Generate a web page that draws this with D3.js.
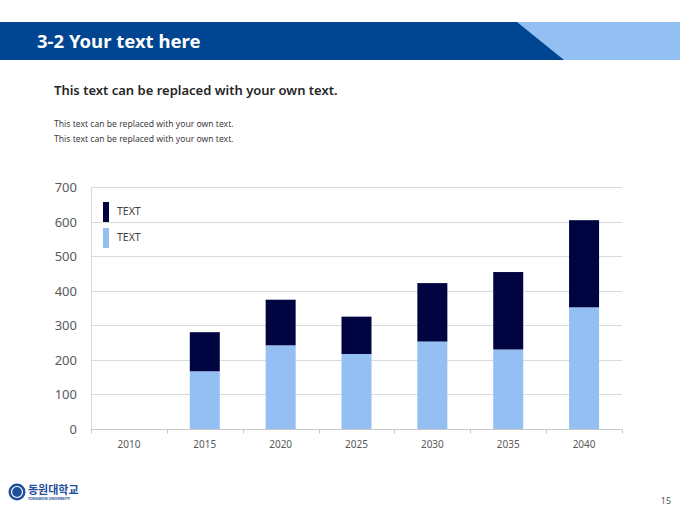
<!DOCTYPE html>
<html>
<head>
<meta charset="utf-8">
<script src="https://cdn.jsdelivr.net/npm/d3@7"></script>
<style>
  html, body { margin: 0; padding: 0; background: #fff; }
  svg { display: block; font-family: "Noto Sans", "Noto Sans CJK KR", sans-serif; }
</style>
</head>
<body>
<div id="chart"></div>
<script>
var width = 680, height = 510;

// chart data
var years = ['2010', '2015', '2020', '2025', '2030', '2035', '2040'];
var lowerValues = [0, 167, 242, 217, 253, 230, 352];
var upperValues = [0, 113, 132, 108, 169, 224, 252];
var seriesNames = ['TEXT', 'TEXT'];
var yTicks = [0, 100, 200, 300, 400, 500, 600, 700];

var DARK = '#000441', LIGHT = '#94bff2';
var plot = {left: 91, right: 622, top: 187, bottom: 429};

var svg = d3.select('#chart').append('svg')
  .attr('width', width)
  .attr('height', height);

// header band
svg.append('rect')
  .attr('x', 0).attr('y', 22)
  .attr('width', width).attr('height', 38)
  .attr('fill', LIGHT);

svg.append('polygon')
  .attr('points', [[0, 22], [517, 22], [564, 60], [0, 60]].join(' '))
  .attr('fill', '#004591');

svg.append('text')
  .attr('x', 37).attr('y', 48)
  .attr('fill', '#fff')
  .style('font-size', '18.5px')
  .style('font-weight', 'bold')
  .text('3-2 Your text here');

svg.append('text')
  .attr('x', 54).attr('y', 95)
  .attr('fill', '#262626')
  .style('font-size', '13px')
  .style('font-weight', '600')
  .text('This text can be replaced with your own text.');

svg.selectAll('text.note')
  .data(['This text can be replaced with your own text.', 'This text can be replaced with your own text.'])
  .enter().append('text')
  .classed('note', true)
  .attr('x', 54)
  .attr('y', function(d, i) { return 127 + i * 15; })
  .attr('fill', '#404040')
  .style('font-size', '8.6px')
  .text(function(d) { return d; });

// scales
var x = d3.scaleBand()
  .domain(years)
  .range([plot.left, plot.right]);

var y = d3.scaleLinear()
  .domain([0, 700])
  .range([plot.bottom, plot.top]);

var chart = svg.append('g');

chart.selectAll('line.grid')
  .data(yTicks.slice(1)).enter()
  .append('line')
  .classed('grid', true)
  .attr('x1', plot.left).attr('x2', plot.right)
  .attr('y1', function(d) { return Math.round(y(d)) + 0.5; })
  .attr('y2', function(d) { return Math.round(y(d)) + 0.5; })
  .attr('stroke', '#d9d9d9');

chart.append('line')
  .attr('x1', plot.left + 0.5).attr('x2', plot.left + 0.5)
  .attr('y1', plot.top).attr('y2', plot.bottom)
  .attr('stroke', '#d9d9d9');

chart.selectAll('text.ylab')
  .data(yTicks).enter()
  .append('text')
  .classed('ylab', true)
  .attr('x', 77)
  .attr('y', function(d) { return y(d) + 5; })
  .attr('text-anchor', 'end')
  .attr('fill', '#595959')
  .style('font-size', '13px')
  .text(function(d) { return d; });

// stacked bars
var stackData = years.map(function(yr, i) {
  return {year: yr, lower: lowerValues[i], upper: upperValues[i]};
});
var stack = d3.stack().keys(['lower', 'upper'])(stackData);
var colors = [LIGHT, DARK];
var barW = 30;

chart.selectAll('g.layer')
  .data(stack).enter()
  .append('g')
  .classed('layer', true)
  .attr('fill', function(d, i) { return colors[i]; })
  .selectAll('rect')
  .data(function(d) { return d.filter(function(p) { return p[1] > p[0]; }); })
  .enter().append('rect')
  .attr('x', function(d) { return x(d.data.year) + x.bandwidth() / 2 - barW / 2; })
  .attr('y', function(d) { return y(d[1]); })
  .attr('width', barW)
  .attr('height', function(d) { return y(d[0]) - y(d[1]); });

// x axis
var xAxis = chart.append('g')
  .attr('transform', 'translate(0,' + (plot.bottom + 0.5) + ')');

xAxis.append('line')
  .attr('x1', plot.left).attr('x2', plot.right)
  .attr('stroke', '#c8c8c8');

var edges = years.map(function(d) { return x(d); }).concat([plot.right]);
xAxis.selectAll('line.tick')
  .data(edges).enter()
  .append('line')
  .classed('tick', true)
  .attr('x1', function(d) { return Math.round(d) + 0.5; })
  .attr('x2', function(d) { return Math.round(d) + 0.5; })
  .attr('y1', 0).attr('y2', 4)
  .attr('stroke', '#c8c8c8');

xAxis.selectAll('text')
  .data(years).enter()
  .append('text')
  .attr('x', function(d) { return x(d) + x.bandwidth() / 2; })
  .attr('y', 18)
  .attr('text-anchor', 'middle')
  .attr('fill', '#595959')
  .style('font-size', '10px')
  .text(function(d) { return d; });

// legend
var legend = chart.selectAll('g.legend')
  .data([DARK, LIGHT]).enter()
  .append('g')
  .classed('legend', true)
  .attr('transform', function(d, i) { return 'translate(103,' + (202 + i * 26) + ')'; });

legend.append('rect')
  .attr('width', 6).attr('height', 20)
  .attr('fill', function(d) { return d; });

legend.append('text')
  .attr('x', 14).attr('y', 13)
  .attr('fill', '#404040')
  .style('font-size', '10.5px')
  .text(function(d, i) { return seriesNames[i]; });

// footer
var logo = svg.append('g').attr('transform', 'translate(17,492)');
logo.append('circle').attr('r', 8.5).attr('fill', '#1f4e9a');
logo.append('circle').attr('r', 5.5).attr('fill', 'none').attr('stroke', '#fff').attr('stroke-width', 1.2);

svg.append('text')
  .attr('x', 28).attr('y', 494)
  .attr('fill', '#1f4e9a')
  .style('font-family', '"Noto Sans CJK KR", sans-serif')
  .style('font-size', '11px')
  .style('font-weight', 'bold')
  .text('동원대학교');

svg.append('text')
  .attr('x', 28).attr('y', 500)
  .attr('fill', '#1f4e9a')
  .style('font-size', '3.6px')
  .style('font-weight', 'bold')
  .text('TONGWON UNIVERSITY');

svg.append('text')
  .attr('x', 666).attr('y', 504)
  .attr('text-anchor', 'middle')
  .attr('fill', '#595959')
  .style('font-size', '9px')
  .text('15');
</script>
</body>
</html>
